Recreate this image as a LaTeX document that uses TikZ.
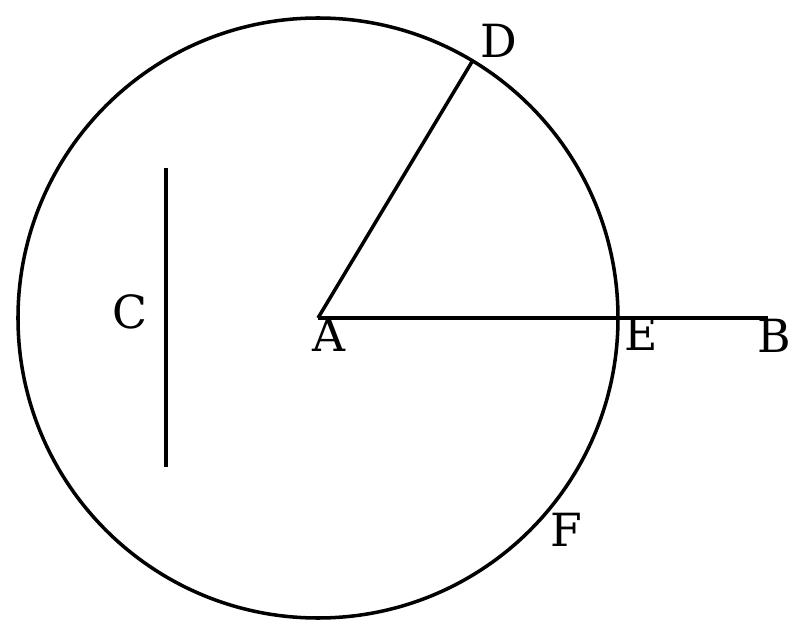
\documentclass[tikz,border=0pt]{standalone}
\usepackage{fontspec}
\setmainfont{DejaVu Serif}
\usetikzlibrary{calc}

\begin{document}
\begin{tikzpicture}[
  geo/.style={line width=1pt, black},
  lbl/.style={font=\fontsize{13}{15}\selectfont, inner sep=0pt}
]
\useasboundingbox (-3.18,-3.17) rectangle (4.82,3.18);

% points
\coordinate (A) at (0,0);
\coordinate (B) at (4.50,0);
\coordinate (D) at (59:3);
\coordinate (E) at (3,0);
\coordinate (C1) at (-1.52,1.50);
\coordinate (C2) at (-1.52,-1.49);

% circle and lines
\draw[geo] (A) circle (3);
\draw[geo] (A) -- (D);
\draw[geo] (A) -- (E) -- (B);
\draw[geo] (C1) -- (C2);

% labels
\node[lbl] (lD) at (1.81,2.77)   {D};
\node[lbl] (lA) at (0.11,-0.17)  {A};
\node[lbl] (lE) at (3.23,-0.16)  {E};
\node[lbl] (lB) at (4.56,-0.18)  {B};
\node[lbl] (lC) at (-1.88,0.06)  {C};
\node[lbl] (lF) at (2.48,-2.12)  {F};
\end{tikzpicture}
\end{document}
